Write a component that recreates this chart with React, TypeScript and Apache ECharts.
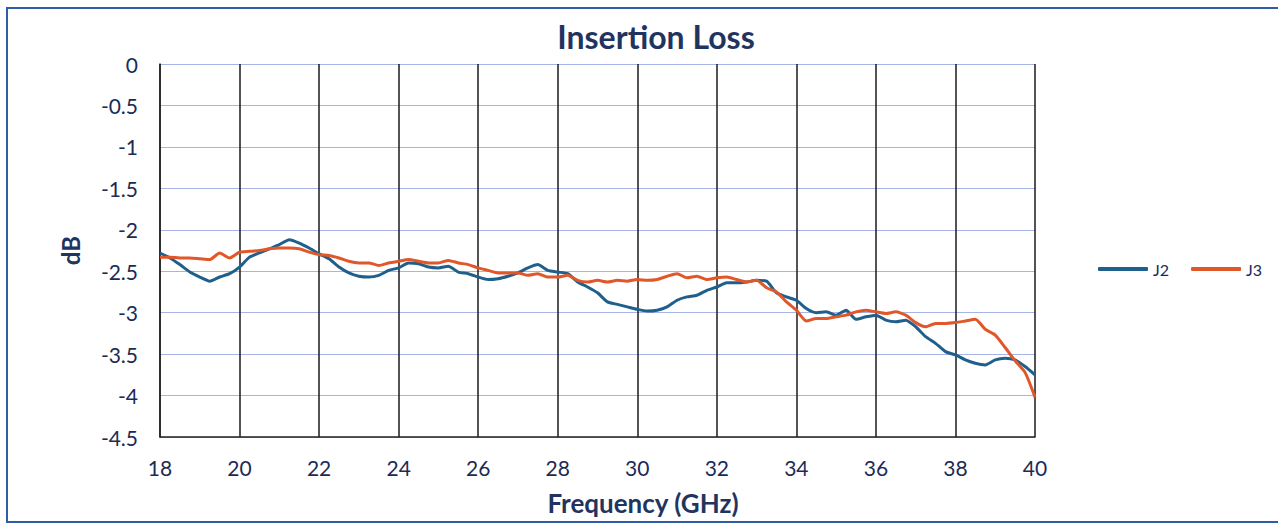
import React, { useEffect, useRef } from "react";
import * as echarts from "echarts";

const title = "Insertion Loss";
const xAxisName = "Frequency (GHz)";
const yAxisName = "dB";

const frequencies = [
  18.0, 18.25, 18.5, 18.75, 19.0, 19.25, 19.5, 19.75, 20.0, 20.25, 20.5, 20.75,
  21.0, 21.25, 21.5, 21.75, 22.0, 22.25, 22.5, 22.75, 23.0, 23.25, 23.5, 23.75,
  24.0, 24.25, 24.5, 24.75, 25.0, 25.25, 25.5, 25.75, 26.0, 26.25, 26.5, 26.75,
  27.0, 27.25, 27.5, 27.75, 28.0, 28.25, 28.5, 28.75, 29.0, 29.25, 29.5, 29.75,
  30.0, 30.25, 30.5, 30.75, 31.0, 31.25, 31.5, 31.75, 32.0, 32.25, 32.5, 32.75,
  33.0, 33.25, 33.5, 33.75, 34.0, 34.25, 34.5, 34.75, 35.0, 35.25, 35.5, 35.75,
  36.0, 36.25, 36.5, 36.75, 37.0, 37.25, 37.5, 37.75, 38.0, 38.25, 38.5, 38.75,
  39.0, 39.25, 39.5, 39.75, 40.0,
];

const j2Values = [
  -2.28, -2.34, -2.42, -2.51, -2.57, -2.62, -2.57, -2.53, -2.45, -2.33, -2.28, -2.23,
  -2.18, -2.12, -2.16, -2.22, -2.29, -2.35, -2.45, -2.52, -2.56, -2.57, -2.55, -2.49,
  -2.46, -2.40, -2.41, -2.45, -2.46, -2.44, -2.51, -2.53, -2.57, -2.60, -2.59, -2.56,
  -2.52, -2.46, -2.42, -2.49, -2.51, -2.53, -2.63, -2.69, -2.76, -2.87, -2.90, -2.93,
  -2.96, -2.98, -2.97, -2.93, -2.85, -2.81, -2.79, -2.73, -2.69, -2.64, -2.64, -2.63,
  -2.61, -2.62, -2.76, -2.81, -2.85, -2.95, -3.00, -2.99, -3.03, -2.97, -3.08, -3.05,
  -3.03, -3.09, -3.11, -3.09, -3.17, -3.29, -3.37, -3.47, -3.51, -3.57, -3.61, -3.63,
  -3.57, -3.55, -3.57, -3.65, -3.75,
];

const j3Values = [
  -2.33, -2.33, -2.34, -2.34, -2.35, -2.36, -2.28, -2.34, -2.27, -2.26, -2.25, -2.23,
  -2.22, -2.22, -2.23, -2.27, -2.30, -2.31, -2.34, -2.38, -2.40, -2.40, -2.43, -2.40,
  -2.38, -2.36, -2.38, -2.40, -2.40, -2.37, -2.40, -2.42, -2.46, -2.49, -2.52, -2.52,
  -2.52, -2.55, -2.53, -2.57, -2.57, -2.55, -2.61, -2.63, -2.61, -2.63, -2.61, -2.62,
  -2.60, -2.61, -2.60, -2.56, -2.53, -2.58, -2.56, -2.60, -2.58, -2.57, -2.60, -2.63,
  -2.61, -2.70, -2.75, -2.87, -2.97, -3.10, -3.07, -3.07, -3.05, -3.03, -2.99, -2.97,
  -2.99, -3.01, -2.99, -3.03, -3.12, -3.17, -3.13, -3.13, -3.12, -3.10, -3.08, -3.20,
  -3.27, -3.42, -3.58, -3.72, -4.02,
];

const seriesNames = ["J2", "J3"];
const seriesColors = ["#1f5f8b", "#e0572a"];

export default function App() {
  const ref = useRef<HTMLDivElement>(null);

  useEffect(() => {
    document.body.style.margin = "0";
    if (!ref.current) return;
    const chart = echarts.init(ref.current, null, { renderer: "svg" });
    const font = "Lato, 'Open Sans', sans-serif";
    const textColor = "#1c2b55";
    const navy = "#1f3560";
    chart.setOption({
      animation: false,
      backgroundColor: "#ffffff",
      title: {
        text: title,
        left: 651,
        textAlign: "center",
        top: 15,
        textStyle: { fontFamily: font, fontSize: 32, fontWeight: "bold", color: navy },
      },
      graphic: [
        {
          type: "rect",
          shape: { x: 7, y: 8, width: 1290, height: 514 },
          style: { fill: "none", stroke: "#2e5ea6", lineWidth: 2 },
          silent: true,
        },
        {
          type: "text",
          x: 643,
          y: 503,
          style: {
            text: xAxisName,
            fontFamily: font,
            fontSize: 26,
            fontWeight: "bold",
            fill: navy,
            textAlign: "center",
            textVerticalAlign: "middle",
          },
        },
      ],
      legend: {
        orient: "horizontal",
        left: 1093,
        top: 256,
        width: 186,
        itemWidth: 50,
        itemHeight: 4,
        itemGap: 22,
        icon: "roundRect",
        textStyle: { fontFamily: font, fontSize: 16, color: textColor },
        data: seriesNames,
      },
      grid: { left: 160, right: 243, top: 64, bottom: 88, containLabel: false },
      xAxis: {
        type: "value",
        min: 18,
        max: 40,
        interval: 2,
        axisLine: { show: true, onZero: false, lineStyle: { color: "#222222", width: 1.5 } },
        axisTick: { show: false },
        axisLabel: { fontFamily: font, fontSize: 21, color: textColor, margin: 20 },
        splitLine: { show: true, lineStyle: { color: "#1a1a1a", width: 1.5 } },
      },
      yAxis: {
        type: "value",
        min: -4.5,
        max: 0,
        interval: 0.5,
        name: yAxisName,
        nameLocation: "middle",
        nameGap: 78,
        nameRotate: 90,
        nameTextStyle: { fontFamily: font, fontSize: 24, fontWeight: "bold", color: navy },
        axisLine: { show: true, lineStyle: { color: "#222222", width: 1.5 } },
        axisTick: { show: false },
        axisLabel: { fontFamily: font, fontSize: 21, color: textColor, margin: 22 },
        splitLine: { show: true, lineStyle: { color: "#a7b4e6", width: 1.2 } },
      },
      series: [
        {
          name: seriesNames[0],
          type: "line",
          data: frequencies.map((f, i) => [f, j2Values[i]]),
          symbol: "none",
          smooth: 0.2,
          lineStyle: { color: seriesColors[0], width: 3 },
          itemStyle: { color: seriesColors[0] },
          z: 2,
        },
        {
          name: seriesNames[1],
          type: "line",
          data: frequencies.map((f, i) => [f, j3Values[i]]),
          symbol: "none",
          smooth: 0.2,
          lineStyle: { color: seriesColors[1], width: 3 },
          itemStyle: { color: seriesColors[1] },
          z: 3,
        },
      ],
    });
    return () => chart.dispose();
  }, []);

  return <div ref={ref} style={{ width: 1278, height: 525 }} />;
}
